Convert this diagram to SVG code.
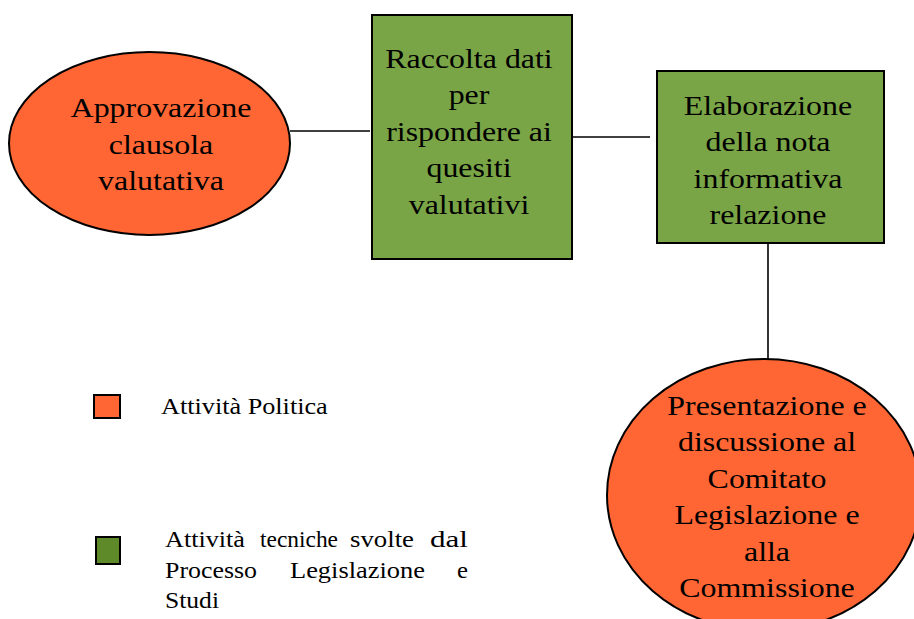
<svg xmlns="http://www.w3.org/2000/svg" width="914" height="619" viewBox="0 0 914 619">
<style>
.orange{fill:#FF6633;stroke:#000;stroke-width:2}
.green{fill:#7AA546;stroke:#000;stroke-width:2}
.lgreen{fill:#5E8A2A;stroke:#000;stroke-width:2}
.c{stroke:#000;stroke-width:1.6;fill:none}
</style>
<rect width="914" height="619" fill="#fff"/>
<g id="connectors">
<line class="c" x1="290" y1="131" x2="370" y2="131"/>
<line class="c" x1="572" y1="137" x2="650" y2="137"/>
<line class="c" x1="768" y1="236" x2="768" y2="359"/>
</g>
<g id="approvazione">
<ellipse class="orange" cx="149.5" cy="143.5" rx="140.5" ry="91.5"/>
<g transform="translate(161,0) scale(1.14,1)" font-family="Liberation Serif, Times New Roman, Times, serif" font-size="28" text-anchor="middle">
<text x="0" y="117.5">Approvazione</text>
<text x="0" y="154">clausola</text>
<text x="0" y="190">valutativa</text>
</g>
</g>
<g id="raccolta">
<rect class="green" x="372" y="15" width="200" height="244"/>
<g transform="translate(469,0) scale(1.14,1)" font-family="Liberation Serif, Times New Roman, Times, serif" font-size="28" text-anchor="middle">
<text x="0" y="68">Raccolta dati</text>
<text x="0" y="104.5">per</text>
<text x="0" y="141">rispondere ai</text>
<text x="0" y="177.5">quesiti</text>
<text x="0" y="214">valutativi</text>
</g>
</g>
<g id="elaborazione">
<rect class="green" x="657" y="71" width="227" height="172"/>
<g transform="translate(768,0) scale(1.14,1)" font-family="Liberation Serif, Times New Roman, Times, serif" font-size="28" text-anchor="middle">
<text x="0" y="115">Elaborazione</text>
<text x="0" y="151.5">della nota</text>
<text x="0" y="188">informativa</text>
<text x="0" y="224.5">relazione</text>
</g>
</g>
<g id="presentazione">
<ellipse class="orange" cx="764" cy="495" rx="157" ry="136"/>
<g transform="translate(767,0) scale(1.14,1)" font-family="Liberation Serif, Times New Roman, Times, serif" font-size="28" text-anchor="middle">
<text x="0" y="415">Presentazione e</text>
<text x="0" y="451.5">discussione al</text>
<text x="0" y="488">Comitato</text>
<text x="0" y="524.5">Legislazione e</text>
<text x="0" y="561">alla</text>
<text x="0" y="597.5">Commissione</text>
</g>
</g>
<g id="legend-politica">
<rect class="orange" x="94" y="395" width="26" height="23"/>
<g transform="translate(161,0) scale(1.14,1)" font-family="Liberation Serif, Times New Roman, Times, serif" font-size="23">
<text x="0" y="414">Attività Politica</text>
</g>
</g>
<g id="legend-tecniche" font-family="Liberation Serif, Times New Roman, Times, serif" font-size="23">
<rect class="lgreen" x="96" y="537" width="24" height="27"/>
<text x="165" y="547" textLength="80" lengthAdjust="spacingAndGlyphs">Attività</text>
<text x="260" y="547" textLength="78" lengthAdjust="spacingAndGlyphs">tecniche</text>
<text x="350" y="547" textLength="64" lengthAdjust="spacingAndGlyphs">svolte</text>
<text x="430" y="547" textLength="38" lengthAdjust="spacingAndGlyphs">dal</text>
<text x="165" y="578" textLength="92" lengthAdjust="spacingAndGlyphs">Processo</text>
<text x="290" y="578" textLength="135" lengthAdjust="spacingAndGlyphs">Legislazione</text>
<text x="457" y="578" textLength="11" lengthAdjust="spacingAndGlyphs">e</text>
<text x="165" y="608" textLength="54" lengthAdjust="spacingAndGlyphs">Studi</text>
</g>
</svg>
